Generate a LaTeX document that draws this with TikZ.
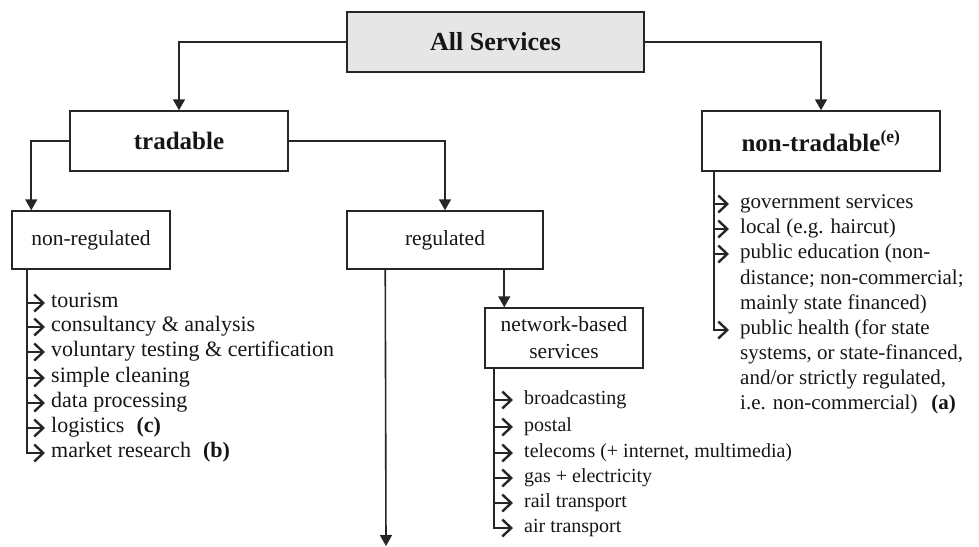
\documentclass[tikz,border=0pt]{standalone}
\usepackage{fontspec}
\setmainfont{Liberation Serif}
\usetikzlibrary{arrows.meta}
\definecolor{linec}{HTML}{262626}
\definecolor{boxfill}{HTML}{E6E6E6}
\definecolor{txt}{HTML}{161616}
\begin{document}
\begin{tikzpicture}[x=1pt,y=-1pt,
  box/.style={draw=linec, line width=1.5pt, inner sep=0pt, text=txt, align=center},
  headfont/.style={font=\bfseries\fontsize{25}{30}\selectfont},
  smallfont/.style={font=\fontsize{21.5}{27}\selectfont},
  conn/.style={draw=linec, line width=1.6pt, -{Triangle[length=11pt,width=12pt]}},
  chev/.style={draw=linec, line width=1.6pt, -{Straight Barb[length=9pt,width=17pt,line width=2.4pt]}},
  item/.style={anchor=west, inner sep=0pt, text=txt, font=\fontsize{22}{25}\selectfont, text height=14pt, text depth=5pt},
  itemn/.style={item, font=\fontsize{20}{25}\selectfont},
  itemt/.style={item, font=\fontsize{21}{25}\selectfont}
]
\useasboundingbox (0,0) rectangle (979,546);

% boxes
\node[box, fill=boxfill, minimum width=297pt, minimum height=60pt, font=\bfseries\fontsize{26}{30}\selectfont] (all) at (495.5,42) {All Services};
\node[box, headfont, minimum width=218pt, minimum height=60pt] (trad) at (179,141) {tradable};
\node[box, headfont, minimum width=238pt, minimum height=60pt] (ntrad) at (821,141) {non-tradable\textsuperscript{(e)}};
\node[box, smallfont, minimum width=158pt, minimum height=58pt] (nreg) at (91,240) {non-regulated};
\node[box, smallfont, minimum width=196pt, minimum height=58pt] (reg) at (445,240) {regulated};
\node[box, smallfont, minimum width=158pt, minimum height=60pt] (net) at (564,338) {network-based\\services};

% main connectors
\draw[conn] (all.west) -| (trad.north);
\draw[conn] (all.east) -| (ntrad.north);
\coordinate (nrA) at ([xshift=20pt]nreg.north west);
\draw[conn] (trad.west) -| (nrA);
\draw[conn] (trad.east) -| (reg.north);
\coordinate (longtop) at ([xshift=39pt]reg.south west);
\coordinate (longend) at (386,546);
\draw[conn] (longtop) -- (longend);
\coordinate (netA) at ([xshift=20pt]net.north west);
\draw[conn] (netA |- reg.south) -- (netA);

% non-regulated list
\coordinate (s1) at ([xshift=16pt]nreg.south west);
\node[item] (t1) at (51,303) {tourism};
\node[item] (t2) at (51,327) {consultancy \& analysis};
\node[item] (t3) at (51,352) {voluntary testing \& certification};
\node[item] (t4) at (51,378) {simple cleaning};
\node[item] (t5) at (51,403) {data processing};
\node[item] (t6) at (51,428) {logistics\hspace{12pt}\textbf{(c)}};
\node[item] (t7) at (51,453) {market research\hspace{12pt}\textbf{(b)}};
\foreach \n in {t1,t2,t3,t4,t5,t6}
  \draw[chev] (s1 |- \n.west) -- ([xshift=-6pt]\n.west);
\draw[chev] (s1) |- ([xshift=-6pt]t7.west);

% network-based list
\coordinate (sN) at ([xshift=10pt]net.south west);
\node[itemn] (b1) at (524,400) {broadcasting};
\node[itemn] (b2) at (524,427) {postal};
\node[itemn] (b3) at (524,453) {telecoms (+ internet, multimedia)};
\node[itemn] (b4) at (524,478) {gas + electricity};
\node[itemn] (b5) at (524,503) {rail transport};
\node[itemn] (b6) at (524,528) {air transport};
\foreach \n in {b1,b2,b3,b4,b5}
  \draw[chev] (sN |- \n.west) -- ([xshift=-11pt]\n.west);
\draw[chev] (sN) |- ([xshift=-11pt]b6.west);

% non-tradable list
\coordinate (sT) at ([xshift=13pt]ntrad.south west);
\node[itemt] (g1) at (740,204) {government services};
\node[itemt] (g2) at (740,229) {local (e.g. haircut)};
\node[itemt] (g3) at (740,254) {public education (non-};
\node[itemt] (g3b) at (740,280) {distance; non-commercial;};
\node[itemt] (g3c) at (740,305) {mainly state financed)};
\node[itemt] (g4) at (740,330) {public health (for state};
\node[itemt] (g4b) at (740,355) {systems, or state-financed,};
\node[itemt] (g4c) at (740,380) {and/or strictly regulated,};
\node[itemt] (g4d) at (740,405) {i.e. non-commercial)\hspace{14pt}\textbf{(a)}};
\foreach \n in {g1,g2,g3}
  \draw[chev] (sT |- \n.west) -- ([xshift=-11pt]\n.west);
\draw[chev] (sT) |- ([xshift=-11pt]g4.west);
\end{tikzpicture}
\end{document}
